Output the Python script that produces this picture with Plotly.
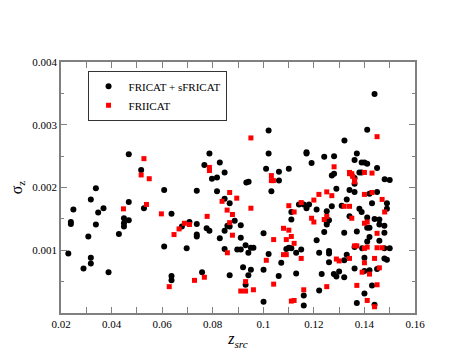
import plotly.graph_objects as go

# FRICAT + sFRICAT (black circles)
fr1_z = [0.0338, 0.0229, 0.0249, 0.0239, 0.0239, 0.0308, 0.0318, 0.0318, 0.0318, 0.0289,
         0.0338, 0.0347, 0.0368, 0.0388, 0.0429, 0.0449, 0.0449, 0.0449, 0.0468, 0.0468,
         0.0528, 0.0608, 0.0608, 0.0637, 0.0637, 0.0637, 0.0678, 0.0708, 0.0697, 0.0737,
         0.0737, 0.0737, 0.0737, 0.0758, 0.0776, 0.0787, 0.0817, 0.0828, 0.0847, 0.0847,
         0.0847, 0.0858, 0.0867, 0.0867, 0.0867, 0.0887, 0.0897,
         0.0468, 0.0517, 0.0767, 0.0787, 0.0797, 0.0817, 0.0828, 0.0847,
         0.1021, 0.1021, 0.1011, 0.1062, 0.1062, 0.1101, 0.0933, 0.0942, 0.1171, 0.1171,
         0.1191, 0.1241, 0.1280, 0.1271, 0.1280, 0.1321, 0.1361, 0.1370, 0.1361, 0.1361,
         0.1380, 0.1389, 0.1389, 0.1400, 0.1411, 0.1411, 0.1440, 0.1450, 0.1480, 0.1500,
         0.1032, 0.0911, 0.0911, 0.0911, 0.0920, 0.0930, 0.0941, 0.0951, 0.0961, 0.0951,
         0.0941, 0.0930, 0.1001, 0.1001, 0.1021, 0.1001, 0.1061, 0.1071, 0.1091, 0.1101,
         0.1111, 0.1111, 0.1111, 0.1141, 0.1160, 0.1171, 0.1181, 0.1130, 0.1150, 0.1130,
         0.1160, 0.1160, 0.1211, 0.1211, 0.1221, 0.1231, 0.1241, 0.1221, 0.1251, 0.1251,
         0.1251, 0.1260, 0.1260, 0.1260, 0.1260, 0.1271, 0.1289, 0.1279, 0.1289, 0.1300,
         0.1320, 0.1320, 0.1320, 0.1310, 0.1330, 0.1330, 0.1341, 0.1361, 0.1341, 0.1370,
         0.1361, 0.1361, 0.1370, 0.1380, 0.1389, 0.1391, 0.1400, 0.1400, 0.1400, 0.1411,
         0.1411, 0.1420, 0.1411, 0.1420, 0.1420, 0.1420, 0.1430, 0.1430, 0.1440, 0.1440,
         0.1450, 0.1450, 0.1459, 0.1459, 0.1459, 0.1479, 0.1479, 0.1479, 0.1479, 0.1489,
         0.1489, 0.1489, 0.1500]
fr1_sigma = [0.00199, 0.00095, 0.00165, 0.00145, 0.00142, 0.00122, 0.00181, 0.00088, 0.00079, 0.00071,
             0.00141, 0.00160, 0.00167, 0.00065, 0.00126, 0.00151, 0.00143, 0.00138, 0.00177, 0.00148,
             0.00167, 0.00196, 0.00106, 0.00158, 0.00059, 0.00052, 0.00138, 0.00145, 0.00103, 0.00195,
             0.00142, 0.00125, 0.00122, 0.00065, 0.00135, 0.00131, 0.00194, 0.00119, 0.00182, 0.00131,
             0.00102, 0.00139, 0.00175, 0.00138, 0.00060, 0.00147, 0.00101,
             0.00253, 0.00228, 0.00236, 0.00254, 0.00214, 0.00216, 0.00240, 0.00224,
             0.00291, 0.00254, 0.00230, 0.00225, 0.00211, 0.00230, 0.00208, 0.00209, 0.00256, 0.00254,
             0.00239, 0.00249, 0.00250, 0.00219, 0.00222, 0.00275, 0.00244, 0.00254, 0.00215, 0.00206,
             0.00224, 0.00224, 0.00240, 0.00240, 0.00238, 0.00292, 0.00349, 0.00231, 0.00213, 0.00212,
             0.00194, 0.00140, 0.00101, 0.00120, 0.00073, 0.00108, 0.00096, 0.00104, 0.00104, 0.00069,
             0.00060, 0.00045, 0.00127, 0.00069, 0.00094, 0.00018, 0.00059, 0.00080, 0.00102, 0.00104,
             0.00103, 0.00149, 0.00161, 0.00173, 0.00173, 0.00167, 0.00173, 0.00096, 0.00101, 0.00063,
             0.00028, 0.00012, 0.00165, 0.00116, 0.00036, 0.00062, 0.00129, 0.00096, 0.00162, 0.00145,
             0.00141, 0.00148, 0.00099, 0.00095, 0.00081, 0.00170, 0.00198, 0.00062, 0.00058, 0.00066,
             0.00057, 0.00084, 0.00128, 0.00171, 0.00093, 0.00181, 0.00196, 0.00193, 0.00154, 0.00130,
             0.00105, 0.00071, 0.00016, 0.00166, 0.00161, 0.00103, 0.00088, 0.00067, 0.00031, 0.00152,
             0.00136, 0.00136, 0.00114, 0.00121, 0.00190, 0.00068, 0.00175, 0.00044, 0.00150, 0.00013,
             0.00193, 0.00070, 0.00149, 0.00141, 0.00115, 0.00139, 0.00128, 0.00103, 0.00087, 0.00085,
             0.00175, 0.00166, 0.00103]

# FRIICAT (red squares)
fr2_z = [0.0447, 0.0538, 0.0597, 0.0647, 0.0667, 0.0688, 0.0708, 0.0728, 0.0767, 0.0778,
         0.0628, 0.0837, 0.0867, 0.0857, 0.0878, 0.0867, 0.0878, 0.0858, 0.0895,
         0.0528, 0.0517, 0.0549, 0.0787, 0.0787,
         0.0951, 0.1032, 0.1032, 0.1040, 0.1280, 0.1341, 0.1341, 0.1350, 0.1353, 0.1361,
         0.1361, 0.1400, 0.1450, 0.1430,
         0.0951, 0.0930, 0.0911, 0.0930, 0.0961, 0.1012, 0.1041, 0.1041, 0.1080, 0.1101,
         0.1091, 0.1111, 0.1122, 0.1080, 0.1091, 0.1101, 0.1122, 0.1150, 0.1150, 0.1111,
         0.1122, 0.1160, 0.1191, 0.1200, 0.1200, 0.1220, 0.1251, 0.1271, 0.1241, 0.1251,
         0.1251, 0.1289, 0.1300, 0.1320, 0.1341, 0.1350, 0.1341, 0.1361, 0.1370, 0.1400,
         0.1430, 0.1411, 0.1400, 0.1400, 0.1411, 0.1400, 0.1391, 0.1420, 0.1440, 0.1459,
         0.1450, 0.1450, 0.1470, 0.1470, 0.1480, 0.1450, 0.1370, 0.1411, 0.1440]
fr2_sigma = [0.00166, 0.00173, 0.00158, 0.00125, 0.00134, 0.00143, 0.00141, 0.00052, 0.00057, 0.00154,
             0.00042, 0.00178, 0.00192, 0.00164, 0.00157, 0.00144, 0.00124, 0.00096, 0.00183,
             0.00246, 0.00220, 0.00214, 0.00232, 0.00227,
             0.00279, 0.00219, 0.00211, 0.00211, 0.00233, 0.00224, 0.00222, 0.00222, 0.00218, 0.00212,
             0.00209, 0.00224, 0.00281, 0.00223,
             0.00167, 0.00050, 0.00035, 0.00035, 0.00037, 0.00084, 0.00117, 0.00046, 0.00135, 0.00132,
             0.00117, 0.00122, 0.00111, 0.00093, 0.00093, 0.00171, 0.00161, 0.00176, 0.00087, 0.00019,
             0.00020, 0.00037, 0.00151, 0.00145, 0.00180, 0.00189, 0.00193, 0.00187, 0.00149, 0.00154,
             0.00042, 0.00086, 0.00083, 0.00170, 0.00170, 0.00151, 0.00087, 0.00107, 0.00107, 0.00189,
             0.00192, 0.00145, 0.00143, 0.00103, 0.00105, 0.00080, 0.00065, 0.00062, 0.00087, 0.00072,
             0.00127, 0.00104, 0.00104, 0.00181, 0.00161, 0.00045, 0.00044, 0.00020, 0.00010]

x_ticks = [0.02, 0.03, 0.04, 0.05, 0.06, 0.07, 0.08, 0.09, 0.10, 0.11, 0.12, 0.13, 0.14, 0.15, 0.16]
x_labels = ["0.02", "", "0.04", "", "0.06", "", "0.08", "", "0.1", "", "0.12", "", "0.14", "", "0.16"]
y_ticks = [0.001, 0.002, 0.003, 0.004]
y_labels = ["0.001", "0.002", "0.003", "0.004"]

serif = "Liberation Serif, Tinos, Times New Roman, DejaVu Serif, serif"

fig = go.Figure()
fig.add_trace(go.Scatter(x=fr1_z, y=fr1_sigma, mode="markers", name="FRICAT + sFRICAT",
                         marker=dict(symbol="circle", size=6, color="black")))
fig.add_trace(go.Scatter(x=fr2_z, y=fr2_sigma, mode="markers", name="FRIICAT",
                         marker=dict(symbol="square", size=5, color="red")))

axis_common = dict(showgrid=False, zeroline=False, showline=True, linecolor="#808080",
                   linewidth=1.5, mirror="allticks", ticks="inside", tickcolor="#808080",
                   automargin=False,
                   tickfont=dict(family=serif, size=11, color="black"))

fig.update_xaxes(range=[0.02, 0.16], tickvals=x_ticks, ticktext=x_labels, ticklen=6,
                 title=dict(text="<i>z<sub>src</sub></i>", font=dict(family=serif, size=16, color="black"),
                            standoff=4),
                 **axis_common)
fig.update_yaxes(range=[0, 0.004], tickvals=y_ticks, ticktext=y_labels, ticklen=6,
                 minor=dict(dtick=0.0005, ticks="inside", ticklen=3, tickcolor="#808080"),
                 title=dict(text="σ<sub>z</sub>", font=dict(family=serif, size=16, color="black"),
                            standoff=6),
                 **axis_common)

fig.update_layout(
    width=458, height=360,
    margin=dict(l=53, r=51, t=54, b=55),
    plot_bgcolor="white", paper_bgcolor="white",
    font=dict(family=serif),
    legend=dict(x=0.075, y=0.965, xanchor="left", yanchor="top",
                bordercolor="#333", borderwidth=1, bgcolor="white",
                font=dict(family=serif, size=11, color="black"),
                tracegroupgap=0, itemwidth=30),
)

fig.write_html("out.html")
